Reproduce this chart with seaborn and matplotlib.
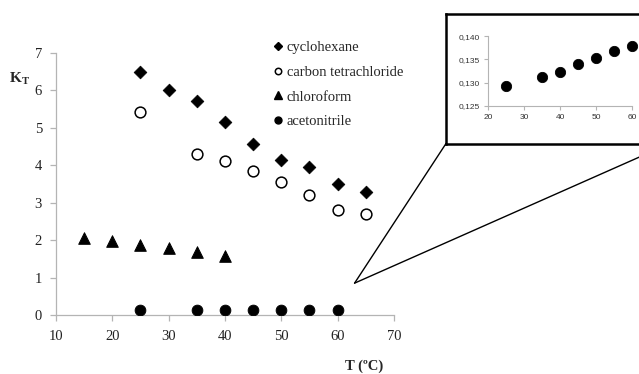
import matplotlib
matplotlib.use("Agg")
import matplotlib.pyplot as plt
from matplotlib.lines import Line2D
from matplotlib.patches import ConnectionPatch
from matplotlib.ticker import FuncFormatter
import seaborn as sns
import pandas as pd

# Equilibrium constant K_T versus temperature for four solvents
t_cyclohexane = [25, 30, 35, 40, 45, 50, 55, 60, 65]
k_cyclohexane = [6.49, 6.02, 5.71, 5.15, 4.57, 4.13, 3.94, 3.50, 3.29]

t_ccl4 = [25, 35, 40, 45, 50, 55, 60, 65]
k_ccl4 = [5.42, 4.31, 4.12, 3.85, 3.55, 3.20, 2.81, 2.70]

t_chloroform = [15, 20, 25, 30, 35, 40]
k_chloroform = [2.05, 1.98, 1.88, 1.78, 1.67, 1.57]

t_acetonitrile = [25, 35, 40, 45, 50, 55, 60]
k_acetonitrile = [0.1292, 0.1313, 0.1322, 0.1340, 0.1352, 0.1367, 0.1379]

series_names = ["cyclohexane", "carbon tetrachloride", "chloroform", "acetonitrile"]

x_ticks = [10, 20, 30, 40, 50, 60, 70]
y_ticks = [0, 1, 2, 3, 4, 5, 6, 7]
inset_x_ticks = [20, 30, 40, 50, 60]
inset_y_ticks = [0.125, 0.130, 0.135, 0.140]

sns.set_style("white")
plt.rcParams["font.family"] = ["Liberation Serif", "DejaVu Serif"]
plt.rcParams["mathtext.fontset"] = "custom"
plt.rcParams["mathtext.rm"] = "Liberation Serif"
plt.rcParams["mathtext.bf"] = "Liberation Serif:bold"

fig = plt.figure(figsize=(6.39, 3.74), dpi=100)
ax = fig.add_axes([0.0876, 0.1578, 0.529, 0.701])

spine_color = "#b4b4b4"
ink = "black"

styles = {
    "cyclohexane": dict(marker="D", s=42, color=ink, edgecolor=ink),
    "carbon tetrachloride": dict(marker="o", s=60, color="white", edgecolor=ink, linewidth=1.1),
    "chloroform": dict(marker="^", s=70, color=ink, edgecolor=ink),
    "acetonitrile": dict(marker="o", s=60, color=ink, edgecolor=ink),
}
data = {
    "cyclohexane": (t_cyclohexane, k_cyclohexane),
    "carbon tetrachloride": (t_ccl4, k_ccl4),
    "chloroform": (t_chloroform, k_chloroform),
    "acetonitrile": (t_acetonitrile, k_acetonitrile),
}

for name in series_names:
    t, k = data[name]
    df = pd.DataFrame({"T": t, "K": k})
    sns.scatterplot(data=df, x="T", y="K", ax=ax, legend=False, zorder=3, **styles[name])

ax.set_xlim(10, 70)
ax.set_ylim(0, 7)
ax.set_xticks(x_ticks)
ax.set_yticks(y_ticks)
ax.set_xlabel("")
ax.set_ylabel("")
for side in ["top", "right"]:
    ax.spines[side].set_visible(False)
for side in ["left", "bottom"]:
    ax.spines[side].set_color(spine_color)
    ax.spines[side].set_linewidth(0.9)
ax.tick_params(axis="both", which="major", direction="out", length=4, width=0.9,
               color=spine_color, labelsize=10.5, labelcolor="#222222",
               bottom=True, left=True)
ax.tick_params(axis="x", pad=7)
ax.tick_params(axis="y", pad=6)

fig.text(0.030, 0.791, r"$\mathbf{K}_{\mathbf{T}}$", fontsize=11, ha="center", va="center")
fig.text(0.570, 0.022, "T (ºC)", fontsize=10.5, fontweight="bold", ha="center", va="center")

# Legend
handles = [
    Line2D([], [], linestyle="none", marker="D", markersize=4.3, markerfacecolor=ink, markeredgecolor=ink),
    Line2D([], [], linestyle="none", marker="o", markersize=4.6, markerfacecolor="white", markeredgecolor=ink, markeredgewidth=1.1),
    Line2D([], [], linestyle="none", marker="^", markersize=5.6, markerfacecolor=ink, markeredgecolor=ink),
    Line2D([], [], linestyle="none", marker="o", markersize=5.0, markerfacecolor=ink, markeredgecolor=ink),
]
fig.legend(handles, series_names, loc="upper left", bbox_to_anchor=(0.420, 0.907),
           frameon=False, fontsize=10.5, handlelength=0.5, handletextpad=0.35,
           labelspacing=0.8, borderaxespad=0)

# Magnified view of the acetonitrile series
frame = fig.add_axes([0.698, 0.6163, 0.3505, 0.3463])
frame.set_xticks([])
frame.set_yticks([])
frame.set_facecolor("white")
for sp in frame.spines.values():
    sp.set_color("black")
    sp.set_linewidth(1.8)

inset = fig.add_axes([0.7637, 0.7166, 0.2254, 0.187])
df_a = pd.DataFrame({"T": t_acetonitrile, "K": k_acetonitrile})
sns.scatterplot(data=df_a, x="T", y="K", ax=inset, legend=False, marker="o", s=55,
                color=ink, edgecolor=ink, zorder=3, clip_on=False)
inset.set_xlim(20, 60)
inset.set_ylim(0.125, 0.140)
inset.set_xticks(inset_x_ticks)
inset.set_yticks(inset_y_ticks)
inset.set_xlabel("")
inset.set_ylabel("")
inset.set_facecolor("none")
inset.yaxis.set_major_formatter(FuncFormatter(lambda v, p: f"{v:.3f}".replace(".", ",")))
for side in ["top", "right"]:
    inset.spines[side].set_visible(False)
for side in ["left", "bottom"]:
    inset.spines[side].set_color(spine_color)
    inset.spines[side].set_linewidth(0.8)
inset.tick_params(axis="both", direction="out", length=3, width=0.8, color=spine_color,
                  labelsize=6, labelcolor="#333333", bottom=True, left=True, pad=3)
for lbl in inset.get_xticklabels() + inset.get_yticklabels():
    lbl.set_family(["Liberation Sans", "DejaVu Sans"])

# Zoom lines from the acetonitrile region to the magnified frame
apex = (63.0, 0.85)
for corner in [(0, 0), (1, 0)]:
    con = ConnectionPatch(xyA=apex, coordsA=ax.transData, xyB=corner, coordsB=frame.transAxes,
                          color="black", linewidth=1.0)
    fig.add_artist(con)

fig.savefig("out.png", dpi=100)
